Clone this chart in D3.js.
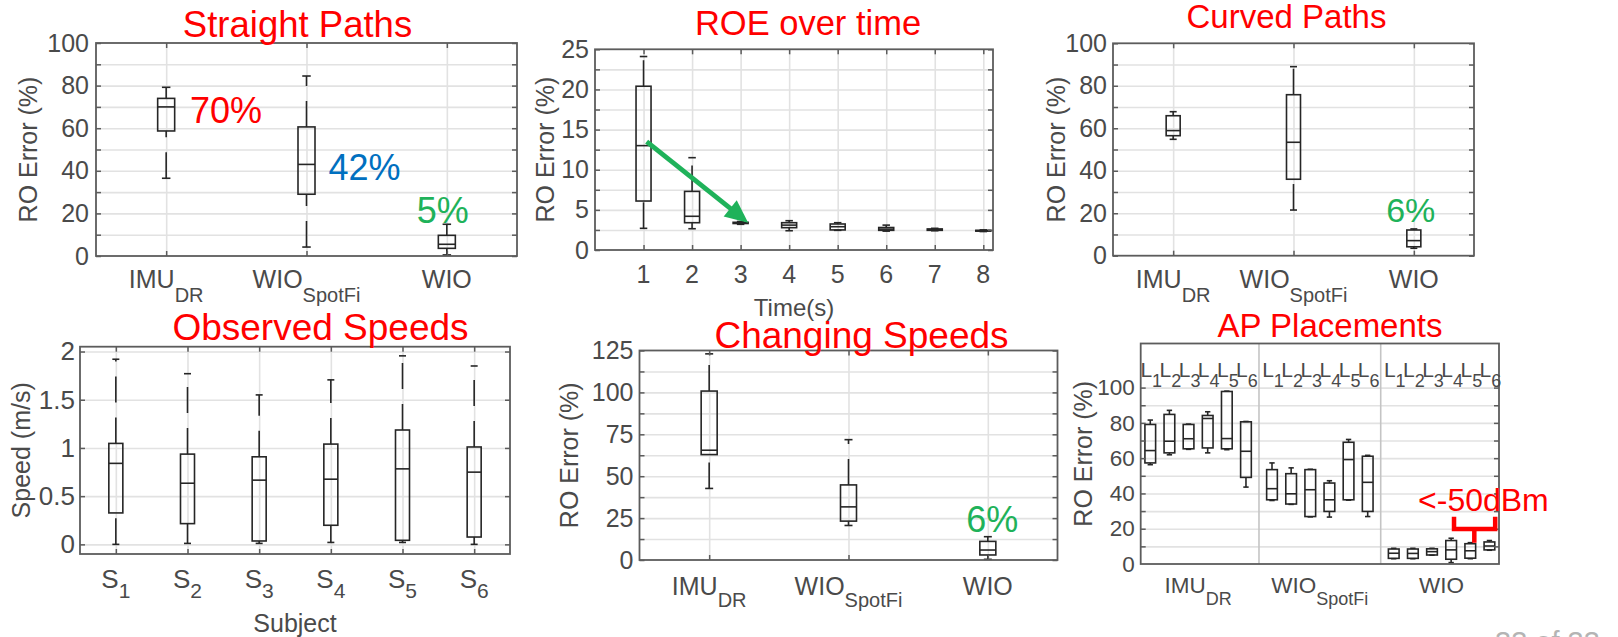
<!DOCTYPE html>
<html><head><meta charset="utf-8">
<script src="https://cdn.jsdelivr.net/npm/d3@7"></script>
<style>html,body{margin:0;padding:0;background:#fff;}svg{display:block;}</style>
</head><body><svg id="c" width="1618" height="637"></svg>
<script>
// ---------------- DATA ----------------
// box stats: [lower whisker, Q1, median, Q3, upper whisker]
const methodNames = ["IMU", "WIO", "WIO"];
const methodSubs = ["DR", "SpotFi", ""];
const straightStats = [[36.5,58.7,70,74,79.2],[4.2,29,43,60.6,84.5],[0.5,3.6,5.5,9.7,14.9]];
const straightNotes = ["70%", "42%", "5%"];
const timeSteps = [1,2,3,4,5,6,7,8];
const roeStats = [[2.7,6.1,13.0,20.4,24.1],[2.65,3.4,4.2,7.3,11.5],[3.2,3.3,3.35,3.45,3.55],[2.4,2.78,3.1,3.4,3.65],[2.45,2.5,2.9,3.24,3.4],[2.35,2.45,2.6,2.8,3.1],[2.4,2.45,2.55,2.62,2.7],[2.3,2.35,2.4,2.45,2.5]];
const curvedStats = [[54.8,56.5,58.9,65.9,67.8],[21.5,36,53.4,75.8,89],[3.5,4.2,7.1,12.1,12.6]];
const curvedNote = "6%";
const subjectSubs = ["1","2","3","4","5","6"];
const speedStats = [[0,0.326,0.84,1.047,1.92],[0.01,0.215,0.634,0.936,1.77],[0.01,0.035,0.666,0.908,1.55],[0.02,0.198,0.676,1.04,1.706],[0.02,0.042,0.783,1.186,1.955],[0,0.076,0.749,1.01,1.85]];
const changingStats = [[42.7,62.9,65.5,100.8,123],[20.6,23.2,31.7,44.8,71.8],[0.4,3,5.95,11.1,13.9]];
const changingNote = "6%";
const apLabels = ["1","2","3","4","5","6"];
const apImuStats = [[56.3,57.3,64.3,79.1,81.6],[61.9,63,69.6,84.8,87.1],[65,65.3,71,79.1,79.3],[63,65.8,82.5,84.2,86.3],[64.8,65.3,71.1,97.8,98],[43.6,49.1,63.9,80.6,80.8]];
const apSpotfiStats = [[36,36.4,42.7,53.5,57.3],[33.8,34,39.8,51.2,54.5],[26.7,26.9,42.1,53.5,53.7],[26.6,29.8,36.4,45.9,47.2],[36.2,36.4,59.2,69,70.6],[26.9,29.8,46.3,61.1,61.6]];
const apWioStats = [[3,3.2,6.1,8.5,8.9],[3,3.2,6,8.5,8.9],[5,5.1,7,8.6,8.9],[0.8,2.7,8,13.3,14.6],[3,3.3,7.5,11.5,12.1],[7.8,8,10.2,12.5,13.3]];
const apNote = "<-50dBm";
const pctTicks = [0,20,40,60,80,100];
const roeTicks = [0,5,10,15,20,25];
const speedTicks = [0,0.5,1,1.5,2];
const speedTickLabels = ["0","0.5","1","1.5","2"];
const changeTicks = [0,25,50,75,100,125];
const slideNumber = "33 of 33";

// ---------------- STYLE ----------------
const FONT = "'Liberation Sans', Arial, Helvetica, sans-serif";
const TXT = "#4a4a4a", FRAME = "#5c5c5c", GRID = "#e2e2e2", BOXC = "#262626";
const RED = "#ff0000", BLUE = "#0070c0", GREEN = "#1fb25a";
const DASH = "26,15";
const svg = d3.select("#c");

function makePanel(c) {
  const x = d3.scaleLinear().domain(c.xDomain).range([c.left, c.right]);
  const y = d3.scaleLinear().domain(c.yDomain).range([c.bottom, c.top]);
  const W = c.right - c.left, H = c.bottom - c.top;
  const g = svg.append("g");
  const gy = g.append("g").attr("transform", `translate(${c.left},0)`)
    .call(d3.axisLeft(y).tickValues(c.yGrid).tickSize(-W).tickFormat(""));
  gy.select(".domain").remove();
  gy.selectAll("line").attr("stroke", GRID).attr("stroke-width", 1.6);
  if (c.xGrid) {
    const gx = g.append("g").attr("transform", `translate(0,${c.bottom})`)
      .call(d3.axisBottom(x).tickValues(c.xGrid).tickSize(-H).tickFormat(""));
    gx.select(".domain").remove();
    gx.selectAll("line").attr("stroke", GRID).attr("stroke-width", 1.6);
  }
  return {g, x, y, W, H, c};
}

function finishPanel(p) {
  const c = p.c;
  p.g.append("rect").attr("x", c.left).attr("y", c.top).attr("width", p.W).attr("height", p.H)
    .attr("fill", "none").attr("stroke", FRAME).attr("stroke-width", 1.8);
  const tk = (axis, tx, ty) => {
    const a = p.g.append("g").attr("transform", `translate(${tx},${ty})`).call(axis);
    a.select(".domain").remove();
    a.selectAll("line").attr("stroke", FRAME).attr("stroke-width", 1.5);
    a.selectAll("text").remove();
  };
  tk(d3.axisLeft(p.y).tickValues(c.yMarks).tickSize(-5), c.left, 0);
  tk(d3.axisRight(p.y).tickValues(c.yMarks).tickSize(-5), c.right, 0);
  if (c.xMarks) {
    tk(d3.axisBottom(p.x).tickValues(c.xMarks).tickSize(-5), 0, c.bottom);
    tk(d3.axisTop(p.x).tickValues(c.xMarks).tickSize(-5), 0, c.top);
  }
  const yl = p.g.append("g").attr("transform", `translate(${c.left},0)`)
    .call(d3.axisLeft(p.y).tickValues(c.yLabels).tickSize(0).tickPadding(c.pad)
      .tickFormat((d, i) => c.yLabelText ? c.yLabelText[i] : String(d)));
  yl.select(".domain").remove();
  yl.attr("font-family", FONT).attr("font-size", c.fs);
  yl.selectAll("text").attr("fill", TXT);
  p.g.append("text").attr("transform", `translate(${c.yTitleX},${(c.top + c.bottom) / 2}) rotate(-90)`)
    .attr("text-anchor", "middle").attr("dominant-baseline", "central")
    .attr("font-family", FONT).attr("font-size", 25).attr("fill", TXT).text(c.yTitle);
}

function drawBoxes(p, stats, positions, w) {
  const gb = p.g.append("g").attr("stroke", BOXC).attr("stroke-width", 1.6).attr("fill", "none");
  stats.forEach((s, i) => {
    const cx = p.x(positions[i]);
    const [lo, q1, md, q3, hi] = s.map(p.y);
    gb.append("line").attr("x1", cx).attr("x2", cx).attr("y1", q3).attr("y2", hi).attr("stroke-dasharray", DASH);
    gb.append("line").attr("x1", cx).attr("x2", cx).attr("y1", lo).attr("y2", q1).attr("stroke-dasharray", DASH);
    gb.append("line").attr("x1", cx - w / 4).attr("x2", cx + w / 4).attr("y1", hi).attr("y2", hi);
    gb.append("line").attr("x1", cx - w / 4).attr("x2", cx + w / 4).attr("y1", lo).attr("y2", lo);
    gb.append("rect").attr("x", cx - w / 2).attr("y", q3).attr("width", w).attr("height", Math.max(0.5, q1 - q3));
    gb.append("line").attr("x1", cx - w / 2).attr("x2", cx + w / 2).attr("y1", md).attr("y2", md);
  });
}

function subLabel(g, xpx, ypx, main, sub, fs, sfs, dy, color) {
  const t = g.append("text").attr("x", xpx).attr("y", ypx).attr("text-anchor", "middle")
    .attr("font-family", FONT).attr("font-size", fs).attr("fill", color || TXT).text(main);
  if (sub) t.append("tspan").attr("dy", dy).attr("font-size", sfs).text(sub);
  return t;
}
function title(txt, x, y, fs) {
  svg.append("text").attr("x", x).attr("y", y).attr("text-anchor", "middle")
    .attr("font-family", FONT).attr("font-size", fs).attr("fill", RED).text(txt);
}
function note(p, txt, xv, yv, fs, color) {
  p.g.append("text").attr("x", p.x(xv)).attr("y", p.y(yv)).attr("font-family", FONT)
    .attr("font-size", fs).attr("fill", color).text(txt);
}
const pos3 = [1, 2, 3];

// ---------- Panel 1: Straight Paths ----------
{
  const p = makePanel({left: 96, right: 517, top: 43, bottom: 256, xDomain: [0.5, 3.5], yDomain: [0, 100],
    yGrid: d3.range(10, 100, 10), xGrid: pos3, yMarks: d3.range(0, 101, 10), xMarks: pos3,
    yLabels: pctTicks, pad: 7, fs: 25, yTitle: "RO Error (%)", yTitleX: 28});
  drawBoxes(p, straightStats, pos3, 17);
  finishPanel(p);
  pos3.forEach((v, i) => subLabel(p.g, p.x(v), 288, methodNames[i], methodSubs[i], 25, 20, 14));
  note(p, straightNotes[0], 1.17, 62.4, 36, RED);
  note(p, straightNotes[1], 2.157, 35.7, 36, BLUE);
  note(p, straightNotes[2], 2.786, 15.5, 36, GREEN);
  title("Straight Paths", 297.5, 37, 36.5);
}

// ---------- Panel 2: ROE over time ----------
{
  const p = makePanel({left: 595, right: 993, top: 49.3, bottom: 250, xDomain: [0, 8.2], yDomain: [0, 25],
    yGrid: d3.range(2.5, 25, 2.5), xGrid: timeSteps, yMarks: d3.range(0, 25.1, 2.5), xMarks: timeSteps,
    yLabels: roeTicks, pad: 6, fs: 25, yTitle: "RO Error (%)", yTitleX: 545});
  drawBoxes(p, roeStats, timeSteps, 15);
  finishPanel(p);
  timeSteps.forEach(v => p.g.append("text").attr("x", p.x(v)).attr("y", 283).attr("text-anchor", "middle")
    .attr("font-family", FONT).attr("font-size", 25).attr("fill", TXT).text(String(v)));
  p.g.append("text").attr("x", (595 + 993) / 2).attr("y", 316).attr("text-anchor", "middle")
    .attr("font-family", FONT).attr("font-size", 24).attr("fill", TXT).text("Time(s)");
  const a0 = [1.064, 13.49], a1 = [3.156, 3.40];
  const x0 = p.x(a0[0]), y0 = p.y(a0[1]), x1 = p.x(a1[0]), y1 = p.y(a1[1]);
  const L = Math.hypot(x1 - x0, y1 - y0), ux = (x1 - x0) / L, uy = (y1 - y0) / L;
  const hl = 23, hw = 10.5;
  p.g.append("line").attr("x1", x0).attr("y1", y0).attr("x2", x1 - ux * hl * 0.8).attr("y2", y1 - uy * hl * 0.8)
    .attr("stroke", GREEN).attr("stroke-width", 4.8);
  const bx = x1 - ux * hl, by = y1 - uy * hl;
  p.g.append("path").attr("d", `M${x1},${y1}L${bx - uy * hw},${by + ux * hw}L${bx + uy * hw},${by - ux * hw}Z`)
    .attr("fill", GREEN);
  title("ROE over time", 808, 35, 34.5);
}

// ---------- Panel 3: Curved Paths ----------
{
  const p = makePanel({left: 1113, right: 1474, top: 43.3, bottom: 255.7, xDomain: [0.5, 3.5], yDomain: [0, 100],
    yGrid: d3.range(10, 100, 10), xGrid: pos3, yMarks: d3.range(0, 101, 10), xMarks: pos3,
    yLabels: pctTicks, pad: 6, fs: 25, yTitle: "RO Error (%)", yTitleX: 1056});
  drawBoxes(p, curvedStats, pos3, 14);
  finishPanel(p);
  pos3.forEach((v, i) => subLabel(p.g, p.x(v), 288, methodNames[i], methodSubs[i], 25, 20, 14));
  note(p, curvedNote, 2.77, 16, 34, GREEN);
  title("Curved Paths", 1286.5, 28, 33);
}

// ---------- Panel 4: Observed Speeds ----------
{
  const xs = [1, 2, 3, 4, 5, 6];
  const p = makePanel({left: 80, right: 510, top: 346.7, bottom: 554, xDomain: [0.5, 6.5], yDomain: [-0.1, 2.05],
    yGrid: speedTicks, xGrid: xs, yMarks: speedTicks, xMarks: xs,
    yLabels: speedTicks, yLabelText: speedTickLabels, pad: 5, fs: 26, yTitle: "Speed (m/s)", yTitleX: 21});
  drawBoxes(p, speedStats, xs, 14);
  finishPanel(p);
  xs.forEach((v, i) => subLabel(p.g, p.x(v), 588, "S", subjectSubs[i], 26, 21, 10));
  p.g.append("text").attr("x", 295).attr("y", 632).attr("text-anchor", "middle")
    .attr("font-family", FONT).attr("font-size", 25).attr("fill", TXT).text("Subject");
  title("Observed Speeds", 320.5, 340, 37);
}

// ---------- Panel 5: Changing Speeds ----------
{
  const p = makePanel({left: 639.5, right: 1057.5, top: 350.5, bottom: 560, xDomain: [0.5, 3.5], yDomain: [0, 125],
    yGrid: d3.range(12.5, 125, 12.5), xGrid: pos3, yMarks: d3.range(0, 125.1, 12.5), xMarks: pos3,
    yLabels: changeTicks, pad: 6, fs: 25, yTitle: "RO Error (%)", yTitleX: 569});
  drawBoxes(p, changingStats, pos3, 16);
  finishPanel(p);
  pos3.forEach((v, i) => subLabel(p.g, p.x(v), 595, methodNames[i], methodSubs[i], 25, 20, 12));
  note(p, changingNote, 2.845, 16.8, 36, GREEN);
  title("Changing Speeds", 861.5, 348, 37);
}

// ---------- Panel 6: AP Placements ----------
{
  const GAP = 0.36;
  const apPos = (g, j) => g * (6 + GAP) + j + 1;
  const groups = [apImuStats, apSpotfiStats, apWioStats];
  const p = makePanel({left: 1140.7, right: 1499, top: 343.5, bottom: 564, xDomain: [0.5, 18.5 + 2 * GAP], yDomain: [0, 125],
    yGrid: d3.range(10, 101, 10), xGrid: null, yMarks: d3.range(10, 101, 10), xMarks: null,
    yLabels: pctTicks, pad: 6, fs: 22.5, yTitle: "RO Error (%)", yTitleX: 1083});
  [1, 2].forEach(g => {
    const sx = p.x(g * (6 + GAP) + 0.5 - GAP / 2);
    p.g.append("line").attr("x1", sx).attr("x2", sx).attr("y1", 343.5).attr("y2", 564)
      .attr("stroke", "#c4c4c4").attr("stroke-width", 1.6);
  });
  groups.forEach((stats, g) => {
    drawBoxes(p, stats, stats.map((s, j) => apPos(g, j)), 10.7);
  });
  finishPanel(p);
  groups.forEach((stats, g) => {
    apLabels.forEach((lb, j) => subLabel(p.g, p.x(apPos(g, j)) + 1, 377, "L", lb, 21, 18, 10));
    subLabel(p.g, p.x(g * (6 + GAP) + 3.5), 593, methodNames[g], methodSubs[g], 22.5, 18, 12);
  });
  note(p, apNote, 14.99, 30.0, 32, RED);
  const bx0 = p.x(16.87), bx1 = p.x(19.02), bxm = p.x(17.93);
  const byb = p.y(19.8), bye = p.y(26.8), bys = p.y(12.1);
  p.g.append("path").attr("d", `M${bx0},${bye}L${bx0},${byb}L${bx1},${byb}L${bx1},${bye}M${bxm},${byb}L${bxm},${bys}`)
    .attr("fill", "none").attr("stroke", RED).attr("stroke-width", 4.5);
  title("AP Placements", 1330, 337, 33);
}

// slide number (cut off at the bottom of the slide)
svg.append("text").attr("x", 1495).attr("y", 652).attr("font-family", FONT).attr("font-size", 29)
  .attr("fill", "#b4b4b4").text(slideNumber);
</script></body></html>
